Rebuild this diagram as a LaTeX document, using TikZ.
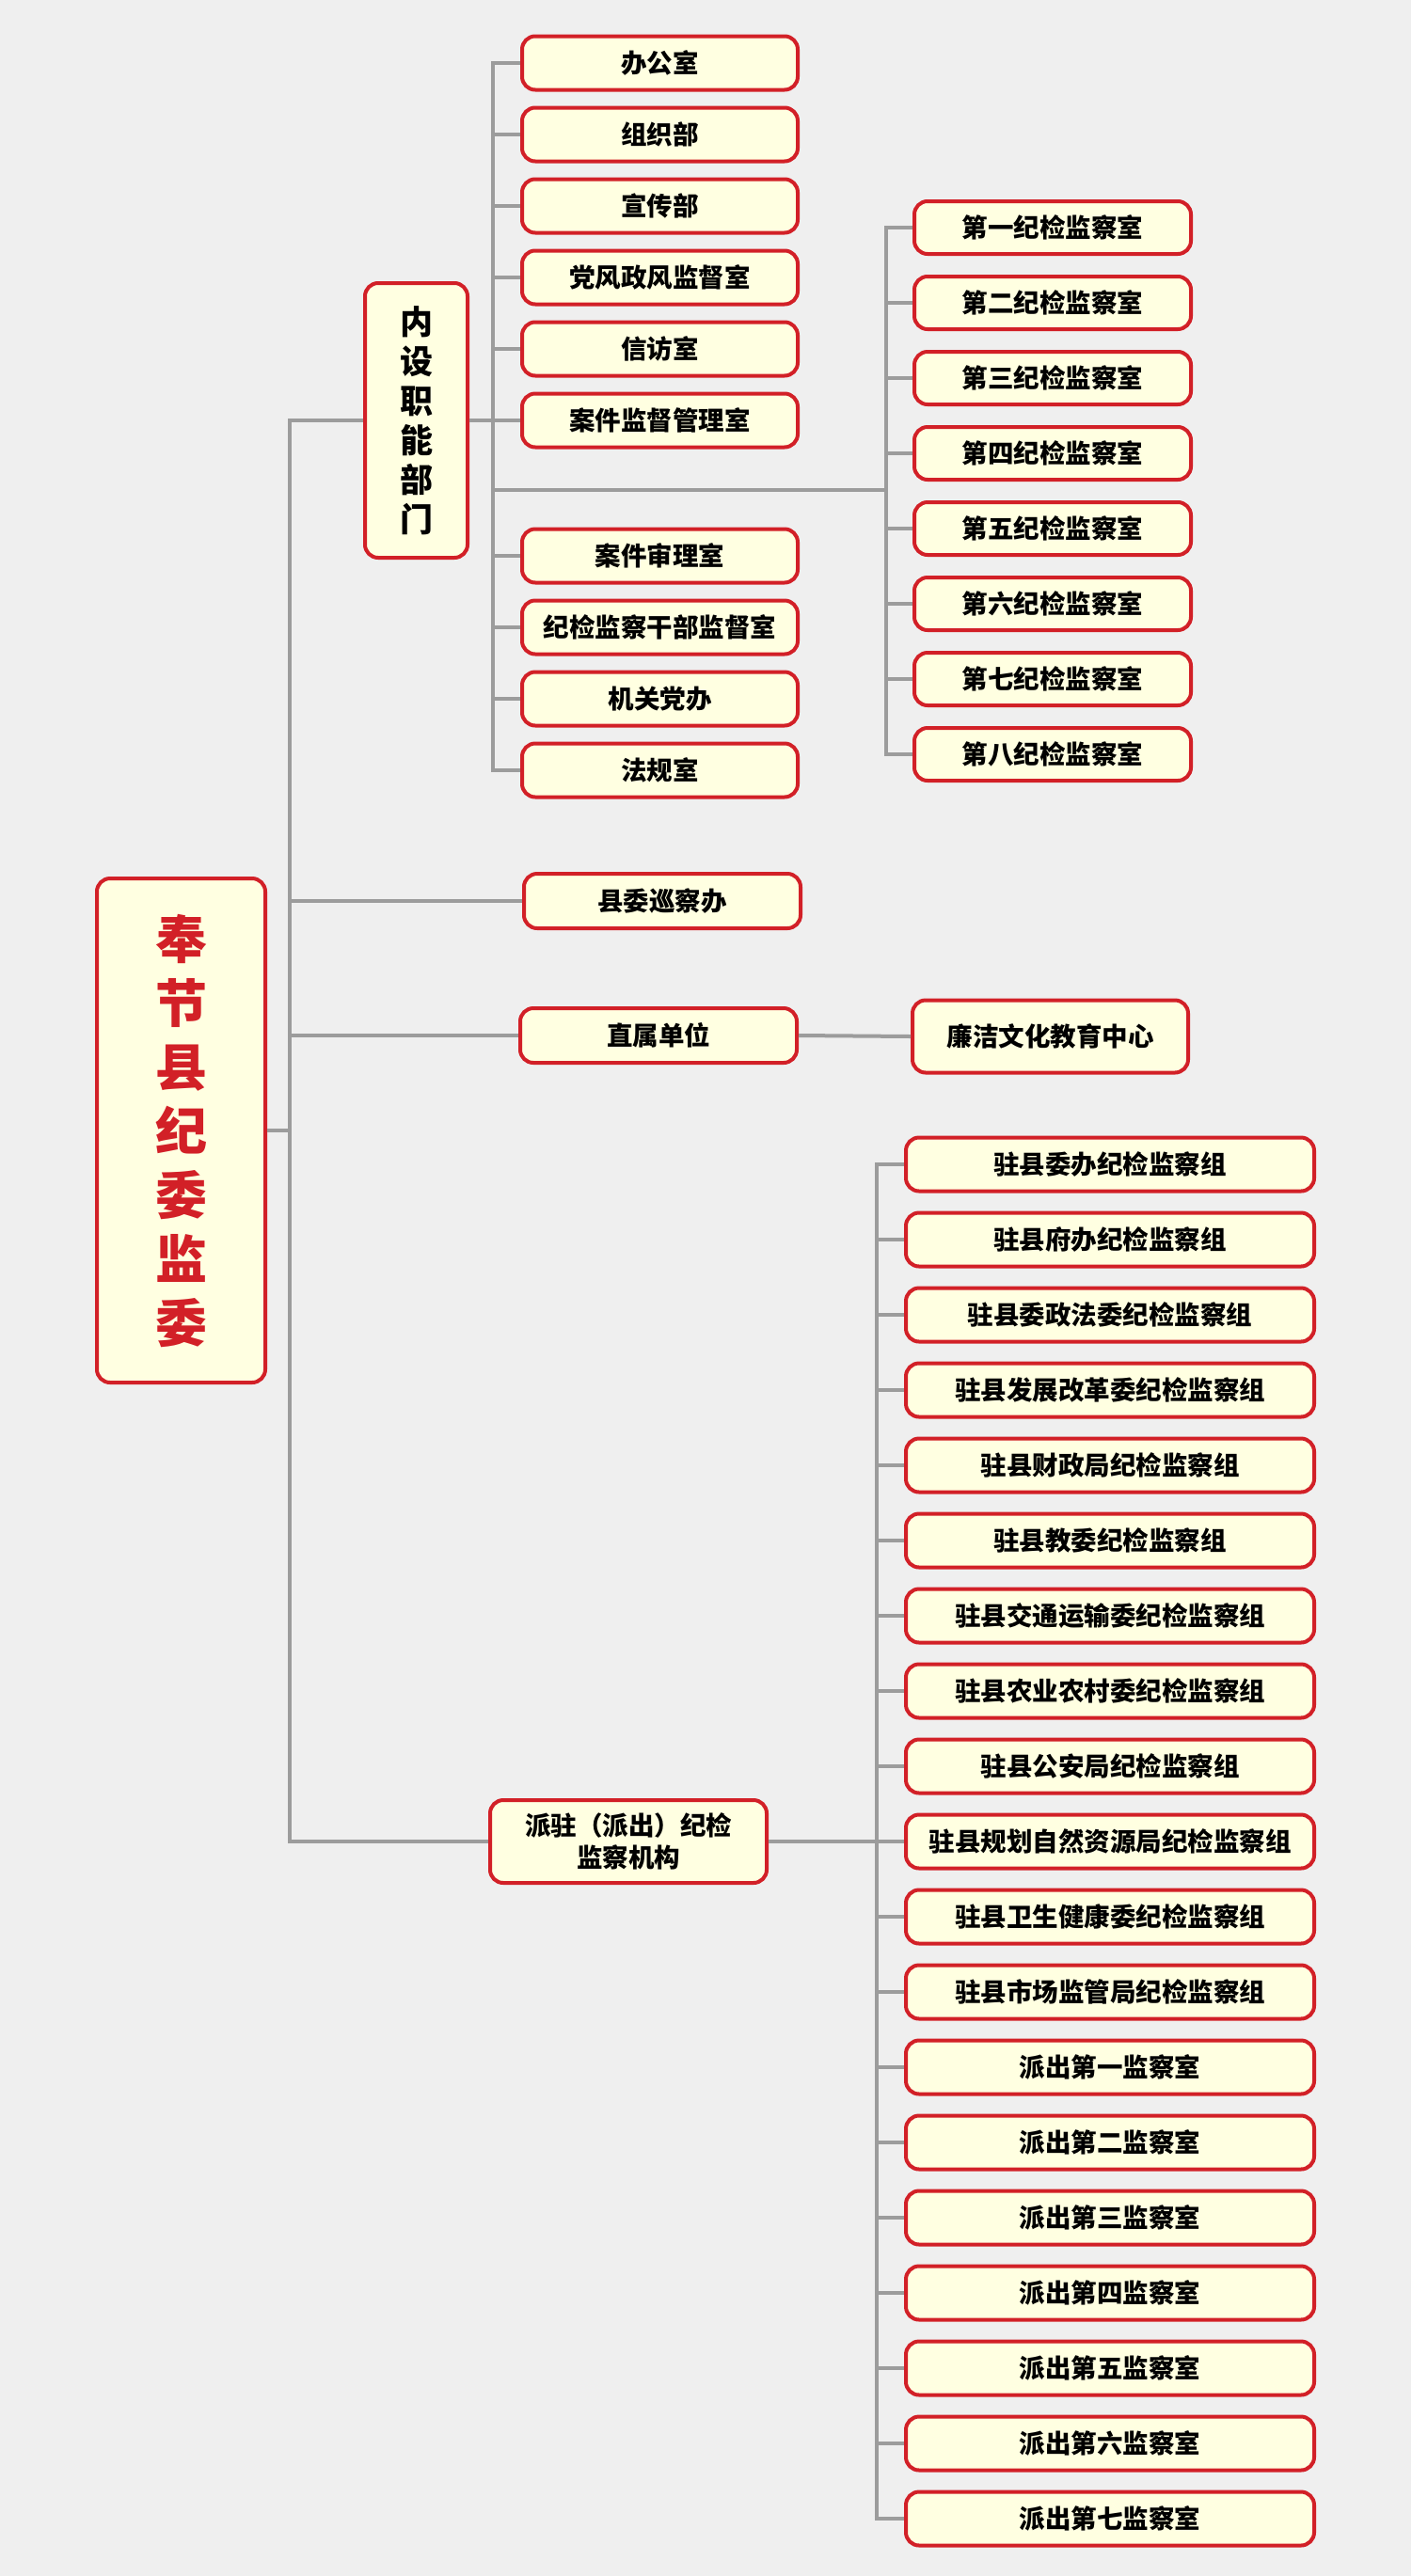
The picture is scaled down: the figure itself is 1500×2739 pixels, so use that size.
\documentclass[tikz,border=0pt]{standalone}
\usepackage{fontspec}
\newfontfamily\cjk{Noto Sans CJK SC}
\definecolor{bred}{RGB}{210,32,39}
\definecolor{cream}{RGB}{255,255,225}
\definecolor{lgray}{RGB}{156,156,156}
\definecolor{bgc}{RGB}{239,239,239}
\tikzset{
  box/.style={draw=bred, line width=4pt, fill=cream, rounded corners=14pt, inner sep=0pt,
    align=center, text=black, font=\cjk\bfseries\fontsize{27.5}{34}\selectfont},
  abox/.style={box, minimum width=293pt, minimum height=57pt},
  bbox/.style={box, minimum width=294pt, minimum height=56pt},
  cbox/.style={box, minimum width=434pt, minimum height=57pt},
  conn/.style={draw=lgray, line width=4pt},
}
\begin{document}
\begin{tikzpicture}[x=1pt,y=-1pt]
\fill[bgc] (0,0) rectangle (1500,2739);
\useasboundingbox (0,0) rectangle (1500,2739);
% trunk positions
\coordinate (t1) at (308,0);
\coordinate (t2) at (524,0);
\coordinate (t3) at (942,0);
\coordinate (t4) at (932,0);
\coordinate (j) at (524,521);
% root
\node[box, minimum width=179pt, minimum height=536pt, text=bred,
  font=\cjk\bfseries\fontsize{55}{68}\selectfont] (root) at (192.5,1202)
  {奉\\节\\县\\纪\\委\\监\\委};
% level 1
\node[box, minimum width=109pt, minimum height=292pt,
  font=\cjk\bfseries\fontsize{35}{42}\selectfont] (nei) at (442.5,447)
  {内\\设\\职\\能\\部\\门};
\node[box, minimum width=294pt, minimum height=58pt] (xc) at (704,958) {县委巡察办};
\node[box, minimum width=294pt, minimum height=58pt] (zs) at (700,1101) {直属单位};
\node[box, minimum width=294pt, minimum height=88pt] (pz) at (668,1958) {派驻（派出）纪检\\监察机构};
\node[box, minimum width=293pt, minimum height=77pt] (lj) at (1116.5,1102) {廉洁文化教育中心};
% internal departments
\foreach \t/\y [count=\i] in {办公室/67, 组织部/143, 宣传部/219, 党风政风监督室/295, 信访室/371,
  案件监督管理室/447, 案件审理室/591, 纪检监察干部监督室/667, 机关党办/743, 法规室/819}{
  \node[abox] (a\i) at (701.5,\y) {\t};
  \draw[conn] (nei.east) -- (nei.east -| t2) |- (a\i.west);
}
% discipline inspection rooms
\foreach \t [count=\i] in {第一纪检监察室, 第二纪检监察室, 第三纪检监察室, 第四纪检监察室,
  第五纪检监察室, 第六纪检监察室, 第七纪检监察室, 第八纪检监察室}{
  \node[bbox] (b\i) at (1119,{242+80*(\i-1)}) {\t};
  \draw[conn] (j) -- (j -| t3) |- (b\i.west);
}
% dispatched groups
\foreach \t [count=\i] in {驻县委办纪检监察组, 驻县府办纪检监察组, 驻县委政法委纪检监察组,
  驻县发展改革委纪检监察组, 驻县财政局纪检监察组, 驻县教委纪检监察组, 驻县交通运输委纪检监察组,
  驻县农业农村委纪检监察组, 驻县公安局纪检监察组, 驻县规划自然资源局纪检监察组,
  驻县卫生健康委纪检监察组, 驻县市场监管局纪检监察组, 派出第一监察室, 派出第二监察室,
  派出第三监察室, 派出第四监察室, 派出第五监察室, 派出第六监察室, 派出第七监察室}{
  \node[cbox] (c\i) at (1180,{1238+80*(\i-1)}) {\t};
  \draw[conn] (pz.east) -- (pz.east -| t4) |- (c\i.west);
}
% root connectors
\foreach \n in {nei, xc, zs, pz}{
  \draw[conn] (root.east) -- (root.east -| t1) |- (\n.west);
}
\draw[conn] (zs.east) -- (lj.west);
\end{tikzpicture}
\end{document}
